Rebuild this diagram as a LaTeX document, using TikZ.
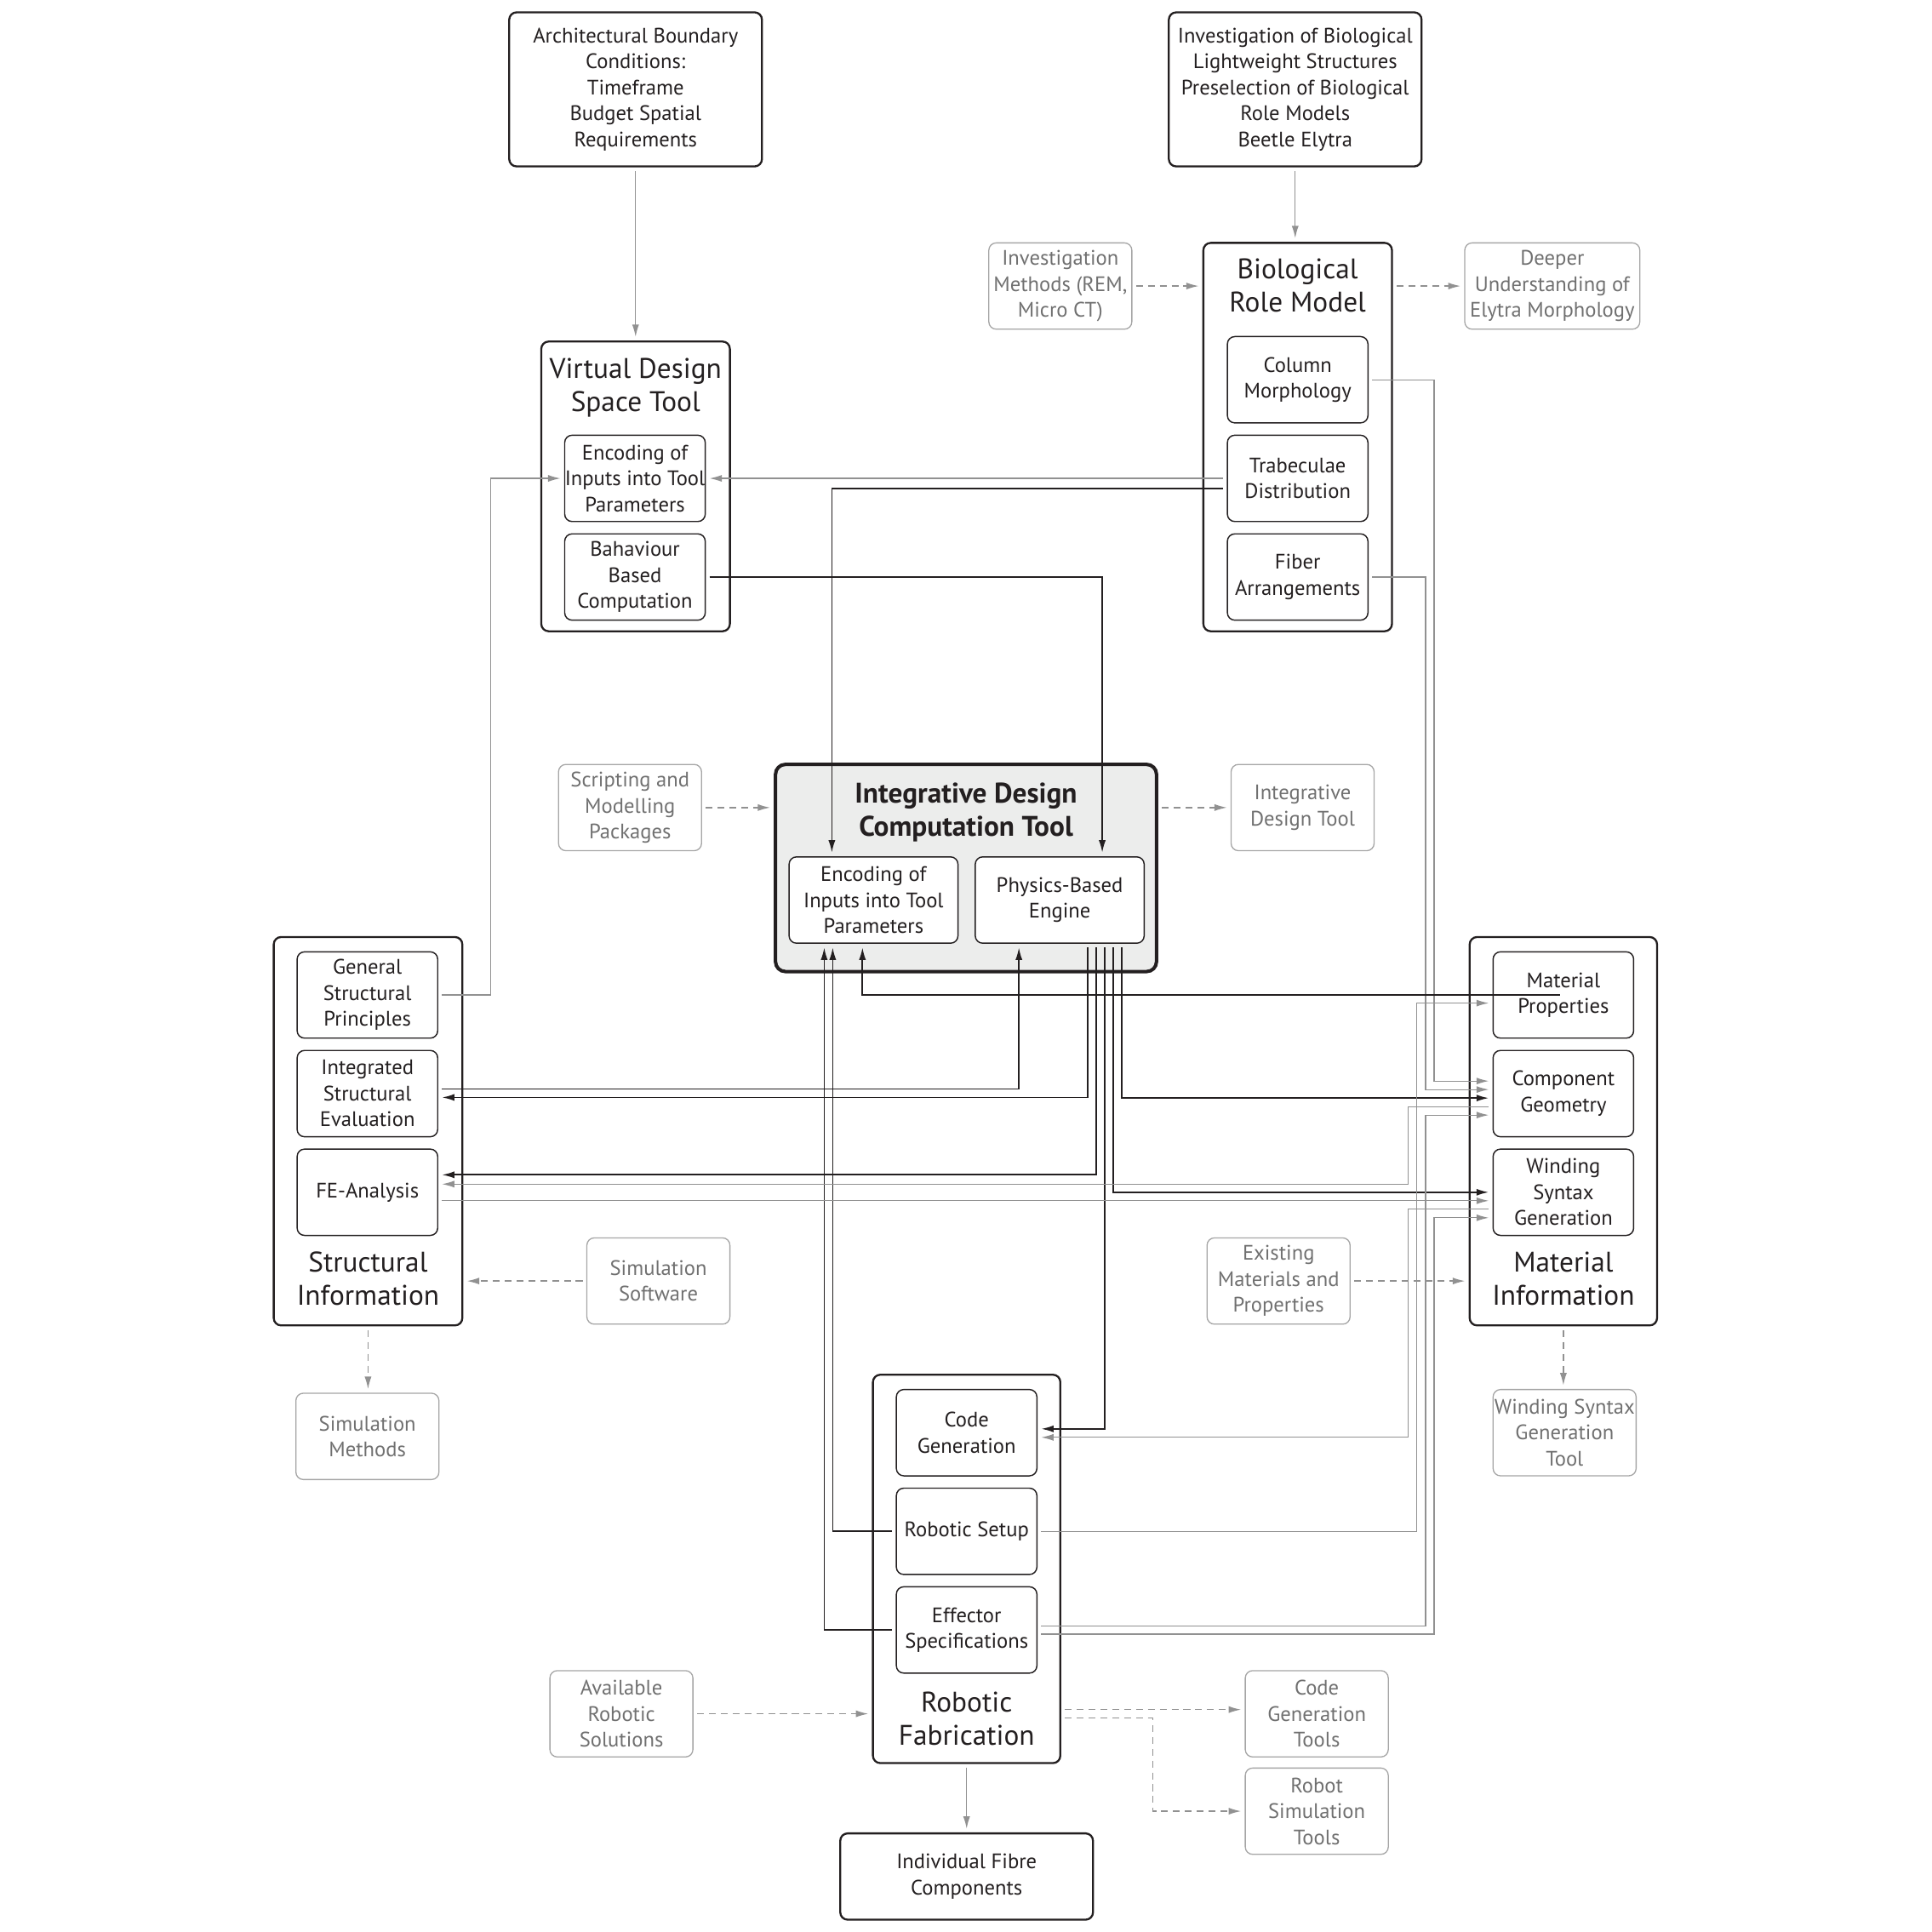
\documentclass[tikz,border=0pt]{standalone}
\usepackage{fontspec}
\setmainfont{PT Sans}
\usepackage{tikz}
\usetikzlibrary{arrows.meta,positioning}
\definecolor{ink}{RGB}{35, 31, 32}
\definecolor{linegray}{RGB}{145, 145, 145}
\definecolor{textgray}{RGB}{112, 112, 112}
\definecolor{boxgray}{RGB}{165, 165, 165}
\definecolor{toolfill}{RGB}{236, 237, 236}
\newcommand{\boxfont}{\fontsize{8.5}{10.5}\selectfont}
\newcommand{\headfont}{\fontsize{11.5}{13.5}\selectfont}
\tikzstyle{srcbox} = [rectangle, rounded corners=3pt, draw=ink, line width=0.8pt, text=ink, align=center, font=\boxfont, minimum width=102.5pt, minimum height=62.5pt, inner sep=0pt]
\tikzstyle{groupbox} = [rectangle, rounded corners=3pt, draw=ink, line width=0.8pt, minimum width=76.5pt, minimum height=157.5pt, inner sep=0pt]
\tikzstyle{corebox} = [rectangle, rounded corners=4pt, draw=ink, line width=1.4pt, fill=toolfill, minimum width=154.5pt, minimum height=84pt, inner sep=0pt]
\tikzstyle{subbox} = [rectangle, rounded corners=3pt, draw=ink, line width=0.5pt, fill=white, text=ink, align=center, font=\boxfont, minimum width=57pt, minimum height=35pt, inner sep=0pt]
\tikzstyle{toolbox} = [rectangle, rounded corners=3pt, draw=boxgray, line width=0.45pt, text=textgray, align=center, font=\boxfont, minimum width=58pt, minimum height=35pt, inner sep=0pt]
\tikzstyle{heading} = [draw=none, fill=none, text=ink, align=center, font=\headfont]
\tikzstyle{bedge} = [draw=ink, line width=0.6pt, -{Latex[length=5pt,width=2.8pt]}, shorten <=1.5pt, shorten >=1.5pt]
\tikzstyle{gedge} = [draw=linegray, line width=0.45pt, -{Latex[length=5pt,width=2.8pt]}, shorten <=1.5pt, shorten >=1.5pt]
\tikzstyle{dedge} = [gedge, dash pattern=on 2.8pt off 2pt]

\begin{document}
\begin{tikzpicture}[auto, x=0.5pt, y=-0.5pt]
\useasboundingbox (0,0) rectangle (1567,1567);

% inputs =============================
\node[srcbox] (arch) at (515.5,72.5) {Architectural Boundary\\Conditions:\\Timeframe\\Budget Spatial\\Requirements};
\node[srcbox] (invest) at (1050.5,72.5) {Investigation of Biological\\Lightweight Structures\\Preselection of Biological\\Role Models\\Beetle Elytra};

% virtual design space tool ==========
\node[groupbox, minimum height=117.5pt] (vdst) at (515.5,394.5) {};
\node[heading] (vdsttxt) at ([yshift=-19.25pt]vdst.north) {Virtual Design\\Space Tool};
\node[subbox] (enc1) at (515,388) {Encoding of\\Inputs into Tool\\Parameters};
\node[subbox, below=4.5pt of enc1] (beh) {Bahaviour\\Based\\Computation};

% biological role model ==============
\node[groupbox] (brm) at (1052.5,354.5) {};
\node[heading] (brmtxt) at ([yshift=-17.75pt]brm.north) {Biological\\Role Model};
\node[subbox] (colm) at (1052.5,308) {Column\\Morphology};
\node[subbox, below=4.5pt of colm] (trab) {Trabeculae\\Distribution};
\node[subbox, below=4.5pt of trab] (fiber) {Fiber\\Arrangements};
\node[toolbox] (invmeth) at (860,232) {Investigation\\Methods (REM,\\Micro CT)};
\node[toolbox, minimum width=71pt] (deeper) at (1259,232) {Deeper\\Understanding of\\Elytra Morphology};

% integrative design computation tool
\node[toolbox] (script) at (511,655) {Scripting and\\Modelling\\Packages};
\node[corebox] (idct) at (783.5,704) {};
\node[heading, font=\headfont\bfseries] (idcttxt) at ([yshift=-20.25pt]idct.north) {Integrative Design\\Computation Tool};
\node[subbox, minimum width=68.5pt] (enc2) at (708.5,730) {Encoding of\\Inputs into Tool\\Parameters};
\node[subbox, minimum width=68.5pt, right=6.5pt of enc2] (phys) {Physics-Based\\Engine};
\node[toolbox] (idtool) at (1056.5,655) {Integrative\\Design Tool};

% structural information =============
\node[groupbox] (struct) at (298.5,917.5) {};
\node[heading] (structtxt) at ([yshift=19.25pt]struct.south) {Structural\\Information};
\node[subbox] (gsp) at (298,807) {General\\Structural\\Principles};
\node[subbox, below=4.5pt of gsp] (ise) {Integrated\\Structural\\Evaluation};
\node[subbox, below=4.5pt of ise] (fea) {FE-Analysis};
\node[toolbox] (simsoft) at (534,1039) {Simulation\\Software};
\node[toolbox] (simmeth) at (298,1165) {Simulation\\Methods};

% material information ===============
\node[groupbox, minimum width=76pt] (matinfo) at (1268,917.5) {};
\node[heading] (matinfotxt) at ([yshift=19.25pt]matinfo.south) {Material\\Information};
\node[subbox] (matprop) at (1268,807) {Material\\Properties};
\node[subbox, below=4.5pt of matprop] (compgeo) {Component\\Geometry};
\node[subbox, below=4.5pt of compgeo] (winding) {Winding\\Syntax\\Generation};
\node[toolbox] (existmat) at (1037,1039) {Existing\\Materials and\\Properties};
\node[toolbox] (windtool) at (1269,1162) {Winding Syntax\\Generation\\Tool};

% robotic fabrication ================
\node[groupbox, minimum width=76pt] (robfab) at (784,1272.5) {};
\node[heading] (robfabtxt) at ([yshift=18.25pt]robfab.south) {Robotic\\Fabrication};
\node[subbox] (codegen) at (784,1162) {Code\\Generation};
\node[subbox, below=4.5pt of codegen] (robsetup) {Robotic Setup};
\node[subbox, below=4.5pt of robsetup] (effector) {Effector\\Specifications};
\node[toolbox] (avail) at (504,1390) {Available\\Robotic\\Solutions};
\node[toolbox] (codetools) at (1068,1390) {Code\\Generation\\Tools};
\node[toolbox] (robsim) at (1068,1469) {Robot\\Simulation\\Tools};
\node[srcbox, minimum height=35pt] (fibre) at (784,1522) {Individual Fibre\\Components};

% channels left of material information
\coordinate (ch1) at ([xshift=-24.5pt]matinfo.west);
\coordinate (ch2) at ([xshift=-21pt]matinfo.west);
\coordinate (ch3) at ([xshift=-17.5pt]matinfo.west);
\coordinate (ch4) at ([xshift=-14pt]matinfo.west);

% edges
\path[gedge] (arch.south) -- (vdst.north);
\path[gedge] (invest.south) -- (invest.south |- brm.north);
\path[dedge] (invmeth.east) -- (invmeth.east -| brm.west);
\path[dedge] (deeper.west -| brm.east) -- (deeper.west);
\path[dedge] (script.east) -- (script.east -| idct.west);
\path[dedge] (idct.east |- idtool.west) -- (idtool.west);
\path[dedge] (simsoft.west) -- (simsoft.west -| struct.east);
\path[dedge] (struct.south) -- (struct.south |- simmeth.north);
\path[dedge] (existmat.east) -- (existmat.east -| matinfo.west);
\path[dedge] (matinfo.south) -- (matinfo.south |- windtool.north);
\path[dedge] (avail.east) -- (avail.east -| robfab.west);
\path[dedge] ([yshift=1.7pt]codetools.west -| robfab.east) -- ([yshift=1.7pt]codetools.west);
\path[dedge] ([yshift=-1.7pt]codetools.west -| robfab.east) -- ++(37pt,0) |- (robsim.west);
\path[gedge] (robfab.south) -- (fibre.north);

% role model and design space
\path[gedge] (enc1.east -| trab.west) -- (enc1.east);
\path[bedge] ([yshift=-4pt]trab.west) -| ([xshift=-16.9pt]enc2.north);
\path[bedge] (beh.east) -| ([xshift=17.25pt]phys.north);
\path[gedge] (gsp.east) -- ++(21.25pt,0) |- (enc1.west);
\path[gedge] (colm.east) -- (colm.east -| ch4) |- ([yshift=5.1pt]compgeo.west);
\path[gedge] (fiber.east) -- (fiber.east -| ch3) |- ([yshift=1.65pt]compgeo.west);

% physics engine
\path[bedge] ([yshift=1.9pt]ise.east) -| ([xshift=-16.55pt]phys.south);
\path[bedge] ([xshift=11.4pt]phys.south) |- ([yshift=-1.55pt]ise.east);
\path[bedge] ([xshift=14.8pt]phys.south) |- ([yshift=7.07pt]fea.east);
\path[bedge] ([xshift=18.3pt]phys.south) |- ([yshift=1.55pt]codegen.east);
\path[bedge] ([xshift=21.7pt]phys.south) |- (winding.west);
\path[bedge] ([xshift=25.2pt]phys.south) |- ([yshift=-1.8pt]compgeo.west);

% encoding inputs
\path[bedge] (matprop.center) -| ([xshift=-4.5pt]enc2.south);
\path[bedge] (robsetup.west) -| ([xshift=-16.55pt]enc2.south);
\path[bedge] (effector.west) -| ([xshift=-20pt]enc2.south);

% material information links
\path[gedge] ([yshift=-5.25pt]compgeo.west) -- ([yshift=-5.25pt]compgeo.west -| ch1) |- ([yshift=3.3pt]fea.east);
\path[gedge] ([yshift=-3.45pt]fea.east) -- ([yshift=-3.45pt]fea.east -| winding.west);
\path[gedge] ([yshift=-6.9pt]winding.west) -- ([yshift=-6.9pt]winding.west -| ch1) |- ([yshift=-1.9pt]codegen.east);
\path[gedge] (robsetup.east) -- (robsetup.east -| ch2) |- ([yshift=-3.3pt]matprop.west);
\path[gedge] ([yshift=1.7pt]effector.east) -- ([yshift=1.7pt]effector.east -| ch3) |- ([yshift=-8.7pt]compgeo.west);
\path[gedge] ([yshift=-1.7pt]effector.east) -- ([yshift=-1.7pt]effector.east -| ch4) |- ([yshift=-10.35pt]winding.west);

\end{tikzpicture}
\end{document}
